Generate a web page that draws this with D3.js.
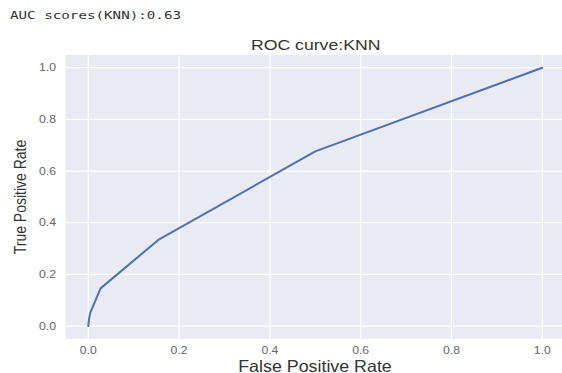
<!DOCTYPE html>
<html>
<head>
<meta charset="utf-8">
<script src="https://cdn.jsdelivr.net/npm/d3@7"></script>
<style>
  body { margin: 0; background: #fff; }
  svg { display: block; }
</style>
</head>
<body>
<script>
// ROC curve points
var fpr = [0.0, 0.001, 0.004, 0.027, 0.156, 0.5, 1.0];
var tpr = [0.0, 0.02, 0.05, 0.146, 0.336, 0.676, 1.0];
var ticks = [0.0, 0.2, 0.4, 0.6, 0.8, 1.0];
var aucText = "AUC scores(KNN):0.63";
var title = "ROC curve:KNN";

var W = 562, H = 373;
var stretchX = 1.22; // the picture is wider than tall

var svg = d3.select("body").append("svg")
    .attr("width", W)
    .attr("height", H);

var x = d3.scaleLinear().domain([-0.05, 1.05]).range([65.6, 565]);
var y = d3.scaleLinear().domain([-0.05, 1.05]).range([339, 54.8]);

function stretch(sel, k) {
    sel.each(function () {
        var len = this.getComputedTextLength();
        d3.select(this)
            .attr("textLength", len * k)
            .attr("lengthAdjust", "spacingAndGlyphs");
    });
}

// notebook output line above the figure
svg.append("text")
    .attr("x", 10)
    .attr("y", 18.5)
    .style("font-family", "'DejaVu Sans Mono', monospace")
    .style("font-size", "10px")
    .style("fill", "#333")
    .text(aucText)
    .call(stretch, 1.42);

// axes background
svg.append("rect")
    .attr("x", x(-0.05))
    .attr("y", y(1.05))
    .attr("width", x(1.05) - x(-0.05))
    .attr("height", y(-0.05) - y(1.05))
    .attr("fill", "#eaeaf2");

// grid
svg.append("g").selectAll("line.gx")
    .data(ticks).enter().append("line")
    .attr("x1", function (d) { return x(d); })
    .attr("x2", function (d) { return x(d); })
    .attr("y1", y(1.05))
    .attr("y2", y(-0.05))
    .attr("stroke", "#fff")
    .attr("stroke-width", 1.2);

svg.append("g").selectAll("line.gy")
    .data(ticks).enter().append("line")
    .attr("x1", x(-0.05))
    .attr("x2", x(1.05))
    .attr("y1", function (d) { return y(d); })
    .attr("y2", function (d) { return y(d); })
    .attr("stroke", "#fff")
    .attr("stroke-width", 1.2);

// tick labels
var fmt = d3.format(".1f");
var tickStyle = function (sel) {
    sel.style("font-family", "'Liberation Sans', Arial, sans-serif")
        .style("font-size", "10px")
        .style("fill", "#666");
};

svg.append("g").selectAll("text")
    .data(ticks).enter().append("text")
    .attr("x", function (d) { return x(d); })
    .attr("y", 354)
    .attr("text-anchor", "middle")
    .call(tickStyle)
    .text(fmt)
    .call(stretch, stretchX);

svg.append("g").selectAll("text")
    .data(ticks).enter().append("text")
    .attr("x", 56)
    .attr("y", function (d) { return y(d) + 3.6; })
    .attr("text-anchor", "end")
    .call(tickStyle)
    .text(fmt)
    .call(stretch, stretchX);

// curve
var pts = fpr.map(function (d, i) { return [d, tpr[i]]; });
var line = d3.line()
    .x(function (d) { return x(d[0]); })
    .y(function (d) { return y(d[1]); });

svg.append("path")
    .datum(pts)
    .attr("d", line)
    .attr("fill", "none")
    .attr("stroke", "#4c72b0")
    .attr("stroke-width", 2)
    .attr("stroke-linejoin", "round")
    .attr("stroke-linecap", "round");

// title and labels
svg.append("text")
    .attr("x", 315.7)
    .attr("y", 49.5)
    .attr("text-anchor", "middle")
    .style("font-family", "'Liberation Sans', Arial, sans-serif")
    .style("font-size", "14px")
    .style("fill", "#333")
    .text(title)
    .call(stretch, 1.26);

svg.append("text")
    .attr("x", 315)
    .attr("y", 371.5)
    .attr("text-anchor", "middle")
    .style("font-family", "'Liberation Sans', Arial, sans-serif")
    .style("font-size", "16.5px")
    .style("fill", "#333")
    .text("False Positive Rate")
    .call(stretch, 1.08);

svg.append("text")
    .attr("transform", "translate(26,197) scale(1.15,1) rotate(-90)")
    .attr("text-anchor", "middle")
    .style("font-family", "'Liberation Sans', Arial, sans-serif")
    .style("font-size", "14px")
    .style("fill", "#333")
    .text("True Positive Rate");
</script>
</body>
</html>
